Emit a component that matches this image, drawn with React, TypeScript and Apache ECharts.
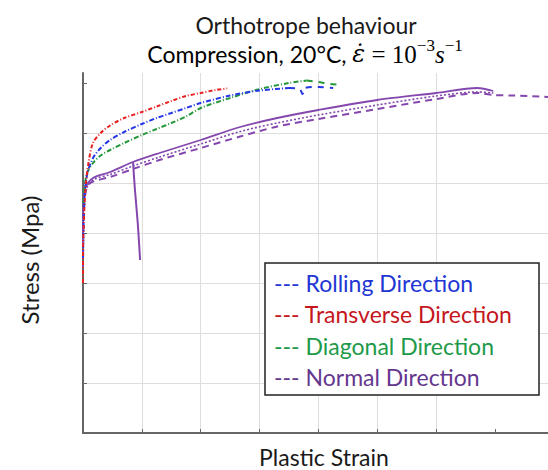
import React, { useEffect, useRef } from "react";
import * as echarts from "echarts";

// Data (Plastic strain in grid units, stress in grid units; axes carry no labels)
const rollingMain: [number, number][] = [
  [0, 3.5], [0.01, 4.2], [0.03, 4.8], [0.06, 5.1], [0.1, 5.3], [0.17, 5.5], [0.3, 5.7],
  [0.46, 5.86], [0.7, 6.02], [1.0, 6.18], [1.25, 6.3], [1.5, 6.4], [1.75, 6.5], [2.0, 6.6],
  [2.5, 6.75], [3.0, 6.85], [3.5, 6.9],
];
const rollingTail: [number, number][] = [
  [3.5, 6.9], [3.68, 6.88], [3.73, 6.78], [3.77, 6.9], [4.0, 6.92], [4.25, 6.9],
];
const transverse: [number, number][] = [
  [0, 3.0], [0.0, 3.6], [0.02, 4.4], [0.05, 5.0], [0.1, 5.45], [0.17, 5.8], [0.3, 6.0],
  [0.46, 6.15], [0.7, 6.3], [1.0, 6.42], [1.25, 6.53], [1.5, 6.64], [1.75, 6.74],
  [2.0, 6.8], [2.25, 6.86], [2.45, 6.89],
];
const diagonalMain: [number, number][] = [
  [0.01, 4.6], [0.03, 4.95], [0.07, 5.2], [0.17, 5.4], [0.3, 5.55], [0.46, 5.66],
  [0.7, 5.8], [1.0, 5.96], [1.25, 6.08], [1.5, 6.2], [1.75, 6.33], [2.0, 6.5],
  [2.5, 6.7], [3.0, 6.88], [3.5, 7.0], [3.8, 7.05],
];
const diagonalTail: [number, number][] = [
  [3.8, 7.05], [4.0, 7.02], [4.2, 6.98], [4.4, 6.96],
];
const normalSolid: [number, number][] = [
  [0, 4.0], [0.01, 4.6], [0.04, 4.9], [0.17, 5.1], [0.46, 5.22], [0.85, 5.42],
  [1.3, 5.6], [2.0, 5.86], [2.67, 6.12], [3.3, 6.3], [4.0, 6.46], [5.0, 6.66],
  [6.0, 6.8], [6.7, 6.9], [6.97, 6.84],
];
const normalUnload: [number, number][] = [
  [0.85, 5.42], [0.88, 4.9], [0.93, 4.2], [0.97, 3.46],
];
const normalDotted: [number, number][] = [
  [0, 3.8], [0.01, 4.5], [0.04, 4.85], [0.17, 5.06], [0.46, 5.17], [0.85, 5.34],
  [1.3, 5.52], [2.0, 5.78], [2.67, 6.03], [3.3, 6.2], [4.0, 6.36], [5.0, 6.56],
  [6.0, 6.74], [6.7, 6.82], [6.97, 6.8],
];
const normalDashed: [number, number][] = [
  [0, 3.3], [0.01, 4.2], [0.03, 4.7], [0.08, 4.95], [0.17, 5.03], [0.46, 5.12],
  [0.85, 5.28], [1.3, 5.46], [2.0, 5.7], [2.67, 5.93], [3.3, 6.13], [4.0, 6.28],
  [5.0, 6.48], [6.0, 6.68], [6.7, 6.8], [6.97, 6.76], [7.3, 6.75], [7.9, 6.72],
];

const legendNames = ["Rolling Direction", "Transverse Direction", "Diagonal Direction", "Normal Direction"];
const legendColors = ["#2236d4", "#c4161c", "#1e9a4a", "#64378f"];
const yTicks = [0, 1, 2, 3, 4, 5, 6, 7];
const xTicks = [0, 1, 2, 3, 4, 5, 6, 7];

const BLUE = "#2437e6";
const RED = "#e5201f";
const GREEN = "#24983a";
const PURPLE = "#8447ad";

export default function App() {
  const ref = useRef<HTMLDivElement>(null);
  useEffect(() => {
    document.body.style.margin = "0";
    if (!ref.current) return;
    const chart = echarts.init(ref.current, null, { renderer: "svg" });
    const line = (data: [number, number][], color: string, type: any, width = 2) => ({
      type: "line",
      data,
      showSymbol: false,
      symbol: "none",
      smooth: 0.3,
      lineStyle: { color, width, type },
      z: 3,
    });
    const textFont = "Lato, 'Open Sans', sans-serif";
    const legendY0 = 283;
    const legendStep = 31.3;
    chart.setOption({
      animation: false,
      backgroundColor: "#ffffff",
      grid: { left: 83, right: 0, top: 73, bottom: 37, containLabel: false },
      xAxis: {
        type: "value",
        min: 0,
        max: 7.9,
        interval: 1,
        axisLine: { show: true, onZero: false, lineStyle: { color: "#666", width: 2 } },
        axisTick: { show: true, inside: true, length: 4, customValues: xTicks, lineStyle: { color: "#666" } },
        axisLabel: { show: false },
        splitLine: { show: true, showMinLine: false, showMaxLine: false, lineStyle: { color: "#dedede", width: 1 } },
      },
      yAxis: {
        type: "value",
        min: 0,
        max: 7.2,
        interval: 1,
        axisLine: { show: true, onZero: false, lineStyle: { color: "#666", width: 2 } },
        axisTick: { show: true, inside: true, length: 4, customValues: yTicks, lineStyle: { color: "#666" } },
        axisLabel: { show: false },
        splitLine: { show: true, showMinLine: false, showMaxLine: false, lineStyle: { color: "#dedede", width: 1 } },
      },
      series: [
        line(normalDashed, PURPLE, [7, 5]),
        line(normalDotted, PURPLE, [2, 2], 1.6),
        line(normalSolid, PURPLE, "solid", 1.8),
        line(normalUnload, PURPLE, "solid", 2),
        line(diagonalMain, GREEN, [5, 2, 1, 2]),
        line(diagonalTail, GREEN, [6, 6]),
        line(rollingMain, BLUE, [5, 2, 1, 2]),
        line(rollingTail, BLUE, [6, 6]),
        line(transverse, RED, [4, 2, 1, 2]),
      ],
      graphic: [
        {
          type: "text",
          x: 306,
          y: 25,
          style: {
            text: "Orthotrope behaviour",
            align: "center",
            verticalAlign: "middle",
            font: `23px ${textFont}`,
            fill: "#1a1a1a",
          },
        },
        {
          type: "text",
          x: 305,
          y: 54,
          style: {
            text: "{n|Compression, 20°C, }{e|ε̇}{m| = 10}{sup|−3}{mi|s}{sup|−1}",
            align: "center",
            verticalAlign: "middle",
            rich: {
              n: { fontSize: 23, fontFamily: textFont, color: "#1a1a1a", lineHeight: 34 },
              e: { fontSize: 24, fontFamily: "'DejaVu Serif', serif", fontStyle: "italic", color: "#1a1a1a", lineHeight: 34 },
              m: { fontSize: 25, fontFamily: "'Liberation Serif', serif", color: "#1a1a1a", lineHeight: 34 },
              mi: { fontSize: 25, fontFamily: "'Liberation Serif', serif", fontStyle: "italic", color: "#1a1a1a", lineHeight: 34 },
              sup: { fontSize: 17, fontFamily: "'Liberation Serif', serif", color: "#1a1a1a", verticalAlign: "top", lineHeight: 34 },
            },
          },
        },
        {
          type: "text",
          x: 29,
          y: 260,
          rotation: Math.PI / 2,
          style: {
            text: "Stress (Mpa)",
            align: "center",
            verticalAlign: "middle",
            font: `24px ${textFont}`,
            fill: "#1a1a1a",
          },
        },
        {
          type: "text",
          x: 324,
          y: 457,
          style: {
            text: "Plastic Strain",
            align: "center",
            verticalAlign: "middle",
            font: `23px ${textFont}`,
            fill: "#1a1a1a",
          },
        },
        {
          type: "rect",
          shape: { x: 265, y: 263, width: 274, height: 132 },
          style: { fill: "#ffffff", stroke: "#222", lineWidth: 1.5 },
          z: 10,
        },
        ...legendNames.map((name, i) => ({
          type: "text",
          x: 274,
          y: legendY0 + i * legendStep,
          z: 11,
          style: {
            text: `--- ${name}`,
            verticalAlign: "middle",
            font: `23px ${textFont}`,
            fill: legendColors[i],
          },
        })),
      ],
    });
    return () => chart.dispose();
  }, []);
  return <div ref={ref} style={{ width: 548, height: 470 }} />;
}
